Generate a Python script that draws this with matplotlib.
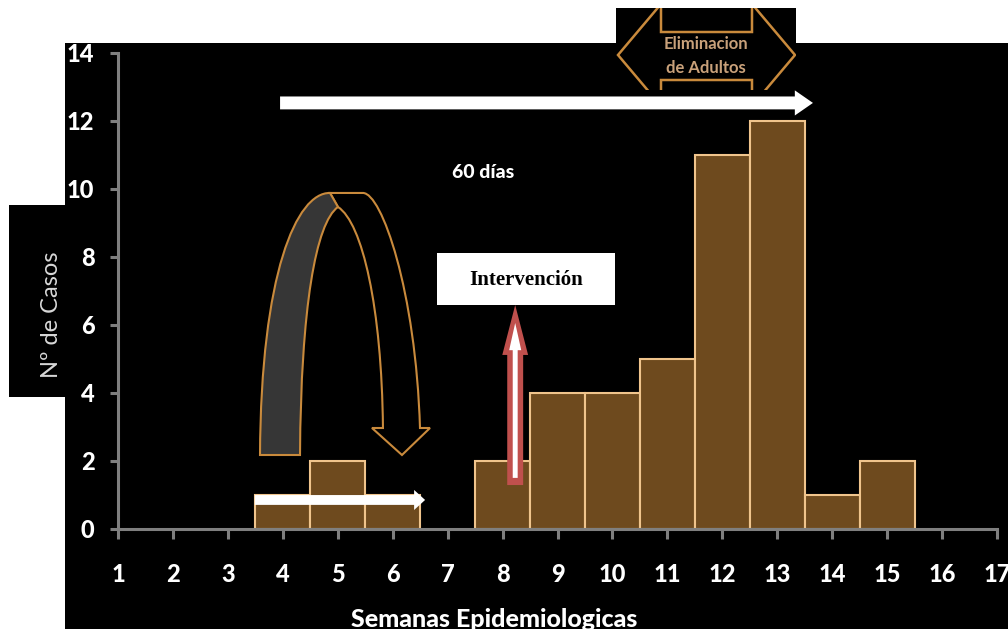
import matplotlib
matplotlib.use("Agg")
import matplotlib.pyplot as plt
from matplotlib.patches import Rectangle, FancyArrow, PathPatch, Polygon
from matplotlib.path import Path

# casos por semana epidemiologica
semanas = [4, 5, 6, 8, 9, 10, 11, 12, 13, 14, 15]
casos = [1, 2, 1, 2, 4, 4, 5, 11, 12, 1, 2]
x_ticks = list(range(1, 18))
y_ticks = [0, 2, 4, 6, 8, 10, 12, 14]

plt.rcParams['font.family'] = ['Lato', 'DejaVu Sans']

W, H = 1008, 629
BAR = '#6e4a1e'
BAR_EDGE = '#f0c48c'
ORANGE = '#c98a3c'
GREY = '#7f7f7f'
HEAVY = 900


def fbox(x0, y0, x1, y1):
    # pixel box measured from the top-left corner -> figure fractions
    return [x0 / W, (H - y1) / H, (x1 - x0) / W, (y1 - y0) / H]


def black_panel(rect):
    a = fig.add_axes(rect)
    a.set_facecolor('black')
    a.set_xticks([])
    a.set_yticks([])
    for s in a.spines.values():
        s.set_visible(False)
    return a


fig = plt.figure(figsize=(W / 100, H / 100), dpi=100)
fig.patch.set_facecolor('white')

# black backdrop behind the chart
fig.add_artist(Rectangle((65 / W, 0), 1 - 65 / W, (H - 43) / H,
                         transform=fig.transFigure, facecolor='black',
                         edgecolor='none', zorder=-5))

# y label on its own black box
yax = black_panel(fbox(9, 205, 65, 397))
yax.text(0.75, 0.43, 'Nº de Casos', rotation=90, color='#d8d8d8',
         fontsize=17, ha='center', va='center', transform=yax.transAxes)

# main histogram
ax = fig.add_axes(fbox(118, 53, 997, 528.5))
ax.set_facecolor('none')
ax.bar(semanas, casos, width=1, color=BAR, edgecolor=BAR_EDGE,
       linewidth=1.5, zorder=2)

ax.set_xlim(1, 17)
ax.set_ylim(0, 14)
ax.set_xticks(x_ticks)
ax.set_yticks(y_ticks)
for side in ['top', 'right']:
    ax.spines[side].set_visible(False)
for side in ['left', 'bottom']:
    ax.spines[side].set_color(GREY)
    ax.spines[side].set_linewidth(2.2)
ax.tick_params(axis='both', colors=GREY, width=2.2, labelcolor='white',
               labelsize=17)
ax.tick_params(axis='x', length=7, pad=18)
ax.tick_params(axis='y', length=6, pad=11)
for lbl in ax.get_xticklabels() + ax.get_yticklabels():
    lbl.set_fontweight(HEAVY)

fig.text(494 / W, 2 / H, 'Semanas Epidemiologicas', color='white',
         fontsize=18, fontweight=HEAVY, ha='center', va='baseline')

# 60 dias arrow
ax.add_patch(FancyArrow(3.95, 12.53, 9.70, 0, width=0.38, head_width=0.74,
                        head_length=0.33, length_includes_head=True,
                        facecolor='white', edgecolor='none', zorder=4))
ax.text(7.64, 10.47, '60 días', color='white', fontsize=14,
        fontweight=HEAVY, ha='center', va='center', zorder=4)

# arrow across the first weeks
ax.add_patch(FancyArrow(3.49, 0.84, 3.10, 0, width=0.29, head_width=0.59,
                        head_length=0.2, length_includes_head=True,
                        facecolor='white', edgecolor='none', zorder=4))

# intervention marker
ax.add_patch(FancyArrow(8.23, 1.28, 0, 5.30, width=0.29, head_width=0.47,
                        head_length=1.47, length_includes_head=True,
                        facecolor='#c0504d', edgecolor='none', zorder=4))
ax.add_patch(FancyArrow(8.23, 1.49, 0, 4.56, width=0.09, head_width=0.22,
                        head_length=0.8, length_includes_head=True,
                        facecolor='white', edgecolor='none', zorder=5))
ax.add_patch(Rectangle((6.81, 6.59), 3.24, 1.53, facecolor='white',
                       edgecolor='none', zorder=5))
ax.text(8.43, 7.33, 'Intervención', family='Liberation Serif',
        fontweight='bold', fontsize=15, color='black', ha='center',
        va='center', zorder=6)

# u-turn arrow: back (black) band with the head, then the grey front band
M, L, C, Z = Path.MOVETO, Path.LINETO, Path.CURVE4, Path.CLOSEPOLY
back_pts = [(4.859, 9.879), (5.459, 9.879),
            (5.80, 9.879), (6.42, 7.0), (6.497, 2.959),
            (6.679, 2.959), (6.169, 2.164), (5.623, 2.959), (5.823, 2.959),
            (5.80, 6.5), (5.45, 9.0), (5.004, 9.467),
            (4.859, 9.879)]
back_codes = [M, L, C, C, C, L, L, L, L, C, C, C, Z]
ax.add_patch(PathPatch(Path(back_pts, back_codes), facecolor='black',
                       edgecolor=ORANGE, linewidth=1.5, zorder=3))
front_pts = [(3.585, 2.164),
             (3.60, 7.5), (4.25, 9.9), (4.859, 9.879),
             (5.004, 9.467),
             (4.6, 9.0), (4.33, 6.5), (4.313, 2.164),
             (3.585, 2.164)]
front_codes = [M, C, C, C, L, C, C, C, Z]
ax.add_patch(PathPatch(Path(front_pts, front_codes), facecolor='#363636',
                       edgecolor=ORANGE, linewidth=1.5, zorder=3))

# "Eliminacion de Adultos" double arrow box
eax = black_panel(fbox(616, 8, 796, 90))
eax.set_xlim(616, 796)
eax.set_ylim(90, 8)
eax.add_patch(Polygon([(618, 55), (661, 4), (661, 32), (752, 32), (752, 4),
                       (795, 55), (752, 106), (752, 80), (661, 80),
                       (661, 106)], closed=True, facecolor='none',
                      edgecolor=ORANGE, linewidth=1.8))
eax.text(706, 44, 'Eliminacion', color='#c9a17a', fontsize=12,
         fontweight='bold', ha='center', va='center')
eax.text(706, 68, 'de Adultos', color='#c9a17a', fontsize=12,
         fontweight='bold', ha='center', va='center')

fig.savefig('out.png', dpi=100, facecolor=fig.get_facecolor())
